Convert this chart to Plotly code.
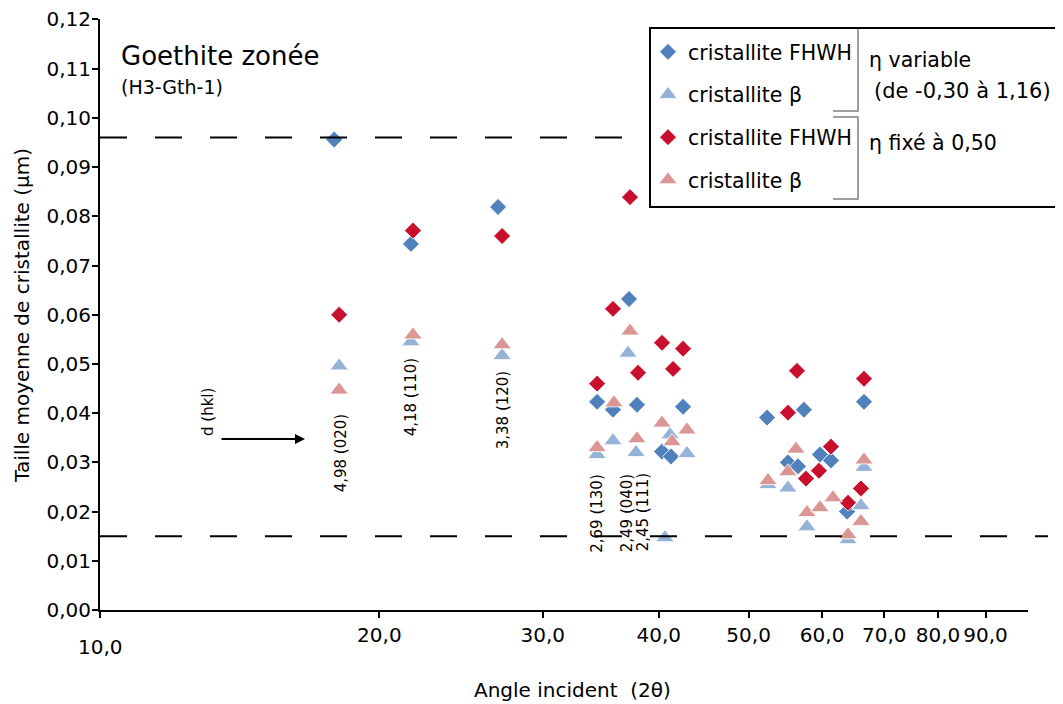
import math
import plotly.graph_objects as go

# Angle incident (2θ) and taille moyenne de cristallite (µm)
x_fhwh_var = [17.88, 21.63, 26.85, 34.33, 35.71, 37.16, 37.90, 40.33, 41.24, 42.49,
              52.34, 55.12, 56.51, 57.35, 59.68, 61.33, 63.83, 66.57]
y_fhwh_var = [0.0956, 0.0744, 0.0819, 0.0423, 0.0407, 0.0632, 0.0417, 0.0322, 0.0312, 0.0413,
              0.0391, 0.0300, 0.0292, 0.0407, 0.0316, 0.0304, 0.0200, 0.0423]

x_beta_var = [18.10, 21.63, 27.12, 34.33, 35.71, 37.07, 37.81, 40.63, 41.14, 42.91,
              52.46, 55.12, 57.79, 63.98, 66.07, 66.57]
y_beta_var = [0.0496, 0.0545, 0.0517, 0.0316, 0.0344, 0.0522, 0.0320, 0.0147, 0.0356, 0.0318,
              0.0255, 0.0248, 0.0169, 0.0143, 0.0212, 0.0290]

x_fhwh_fix = [18.10, 21.74, 27.12, 34.33, 35.71, 37.25, 38.00, 40.33, 41.45, 42.49,
              55.12, 56.37, 57.64, 59.53, 61.33, 63.98, 66.07, 66.57]
y_fhwh_fix = [0.0600, 0.0771, 0.0760, 0.0460, 0.0612, 0.0839, 0.0482, 0.0543, 0.0490, 0.0531,
              0.0401, 0.0486, 0.0267, 0.0283, 0.0332, 0.0218, 0.0247, 0.0470]

x_beta_fix = [18.10, 21.74, 27.12, 34.33, 35.80, 37.25, 37.90, 40.33, 41.35, 42.91,
              52.46, 55.12, 56.23, 57.79, 59.68, 61.64, 63.98, 66.07, 66.57]
y_beta_fix = [0.0447, 0.0559, 0.0539, 0.0330, 0.0421, 0.0567, 0.0348, 0.0380, 0.0342, 0.0366,
              0.0263, 0.0281, 0.0327, 0.0198, 0.0208, 0.0228, 0.0153, 0.0180, 0.0305]

# limites (lignes pointillées)
limits = [0.096, 0.015]

# étiquettes d(hkl) et leur angle
peak_labels = ["4,98 (020)", "4,18 (110)", "3,38 (120)", "2,69 (130)", "2,49 (040)", "2,45 (111)"]
peak_angles = [18.2, 21.65, 27.2, 34.3, 37.0, 38.5]

x_ticks = [10, 20, 30, 40, 50, 60, 70, 80, 90]
x_ticktext = ["", "20,0", "30,0", "40,0", "50,0", "60,0", "70,0", "80,0", "90,0"]
y_ticks = [round(i * 0.01, 2) for i in range(13)]

# plot area in reference pixels (for decorations); page body adds 8px
L, R, T, B = 100, 1028, 19, 610
OFF = 8


def px(x):
    return (x - L) / (R - L)


def py(y):
    return (B - y) / (B - T)


font = "DejaVu Sans"
fig = go.Figure()

series = [
    (x_fhwh_var, y_fhwh_var, "cristallite FHWH", "diamond", "#4F81BD", 13),
    (x_beta_var, y_beta_var, "cristallite β", "triangle-up", "#95B3D7", 16),
    (x_fhwh_fix, y_fhwh_fix, "cristallite FHWH", "diamond", "#C8102E", 13),
    (x_beta_fix, y_beta_fix, "cristallite β", "triangle-up", "#DA9694", 16),
]
for i, (xs, ys, name, sym, col, size) in enumerate(series):
    fig.add_trace(go.Scatter(
        x=xs, y=ys, mode="markers", name=name, legendgroup=str(i),
        marker=dict(symbol=sym, color=col, size=size, line=dict(color="white", width=0.8)),
    ))

shapes = []
for v in limits:
    shapes.append(dict(type="line", xref="paper", yref="y", x0=0, x1=px(1048), y0=v, y1=v,
                       line=dict(color="black", width=2, dash="27px,28px"), layer="above"))
# cadre de la légende
shapes.append(dict(type="rect", xref="paper", yref="paper", x0=px(650), x1=px(1058),
                   y0=py(207), y1=py(28), line=dict(color="black", width=2),
                   fillcolor="white", layer="above"))
# accolades
shapes.append(dict(type="path", xref="paper", yref="paper",
                   path=f"M{px(858)},{py(29)} L{px(858)},{py(111)} L{px(833)},{py(111)}",
                   line=dict(color="#808080", width=1.5), layer="above"))
shapes.append(dict(type="path", xref="paper", yref="paper",
                   path=f"M{px(833)},{py(117)} L{px(858)},{py(117)} L{px(858)},{py(199)} L{px(833)},{py(199)}",
                   line=dict(color="#808080", width=1.5), layer="above"))

ann = []
ann.append(dict(text="Goethite zonée", x=px(119), y=py(56), xref="paper", yref="paper",
                xanchor="left", yanchor="middle", showarrow=False, font=dict(size=26)))
ann.append(dict(text="(H3-Gth-1)", x=px(119), y=py(87), xref="paper", yref="paper",
                xanchor="left", yanchor="middle", showarrow=False, font=dict(size=19)))
ann.append(dict(text="η variable", x=px(867), y=py(60), xref="paper", yref="paper",
                xanchor="left", yanchor="middle", showarrow=False, font=dict(size=20.5)))
ann.append(dict(text="(de -0,30 à 1,16)", x=px(872), y=py(91), xref="paper", yref="paper",
                xanchor="left", yanchor="middle", showarrow=False, font=dict(size=21)))
ann.append(dict(text="η fixé à 0,50", x=px(867), y=py(143), xref="paper", yref="paper",
                xanchor="left", yanchor="middle", showarrow=False, font=dict(size=20.5)))
ann.append(dict(text="10,0", x=1, y=py(647), xref="x", yref="paper",
                xanchor="center", yanchor="middle", showarrow=False, font=dict(size=20)))
# d(hkl) labels
label_y = [453, 397, 410, 513, 513, 512]
for lab, ang, ly in zip(peak_labels, peak_angles, label_y):
    ann.append(dict(text=lab, x=math.log10(ang), y=py(ly), xref="x", yref="paper",
                    textangle=-90, showarrow=False, font=dict(size=15),
                    xanchor="center", yanchor="middle"))
ann.append(dict(text="d (hkl)", x=px(197), y=py(438), xref="paper", yref="paper",
                textangle=-90, showarrow=False, font=dict(size=15)))
ann.append(dict(text="", x=px(305), y=py(439), xref="paper", yref="paper",
                ax=-85, ay=0, showarrow=True, arrowhead=2, arrowsize=1, arrowwidth=2,
                arrowcolor="black"))
ann.append(dict(text="Angle incident \u00a0(2θ)", x=px(572), y=py(690), xref="paper", yref="paper",
                xanchor="center", yanchor="middle", showarrow=False, font=dict(size=20)))
ann.append(dict(text="Taille moyenne de cristallite (µm)", x=px(22), y=py(316),
                xref="paper", yref="paper", textangle=-90,
                xanchor="center", yanchor="middle", showarrow=False, font=dict(size=20)))

fig.update_layout(
    width=1063 - OFF, height=704 - OFF,
    margin=dict(l=L - OFF, r=1063 - R, t=T - OFF, b=704 - B),
    paper_bgcolor="white", plot_bgcolor="white",
    font=dict(family=font, size=20, color="black"),
    separators=", ",
    shapes=shapes, annotations=ann,
    legend=dict(x=px(648), y=py(32), xanchor="left", yanchor="top",
                bgcolor="rgba(0,0,0,0)", borderwidth=0, font=dict(size=20.5),
                tracegroupgap=13),
    xaxis=dict(type="log", range=[1, 2], tickvals=x_ticks, ticktext=x_ticktext,
               ticks="outside", ticklen=6, tickwidth=1.5, tickcolor="black",
               showline=True, linewidth=2, linecolor="black", showgrid=False, zeroline=False,
               tickfont=dict(size=20), automargin=False),
    yaxis=dict(range=[0, 0.1201], tickvals=y_ticks, tickformat=".2f",
               ticks="outside", ticklen=6, tickwidth=1.5, tickcolor="black",
               showline=True, linewidth=2, linecolor="black", showgrid=False, zeroline=False,
               tickfont=dict(size=20), automargin=False, ticklabelstandoff=-3,
               ticklabeloverflow="allow"),
)

fig.write_html("out.html")
